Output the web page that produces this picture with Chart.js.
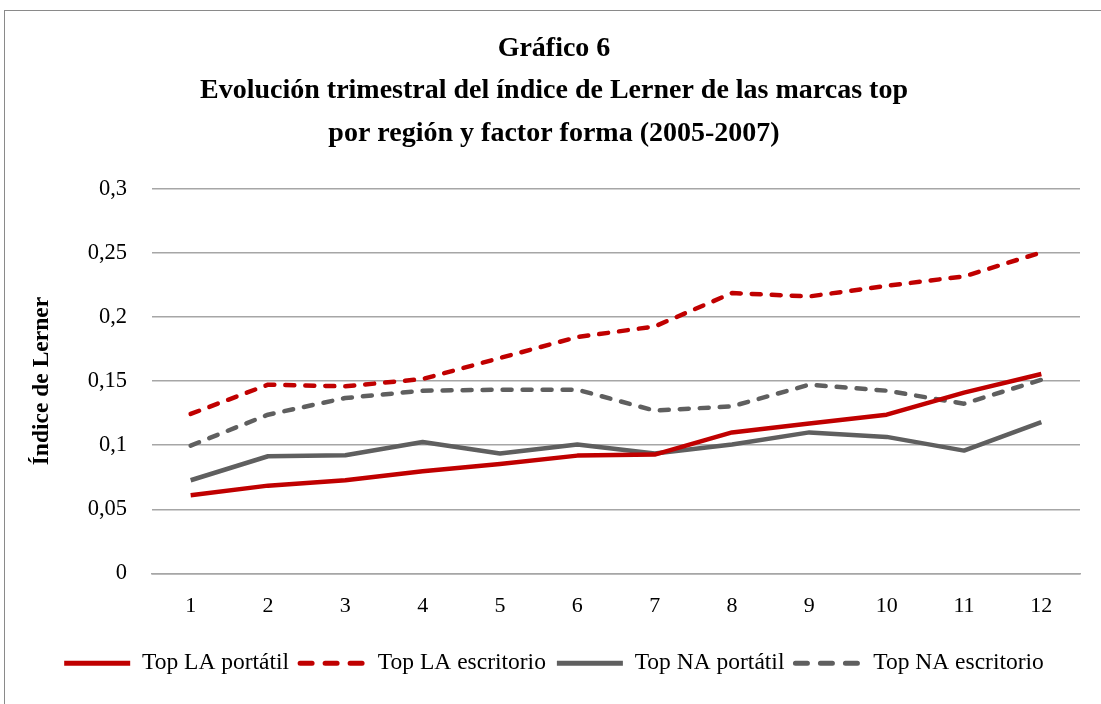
<!DOCTYPE html>
<html>
<head>
<meta charset="utf-8">
<script src="https://cdn.jsdelivr.net/npm/chart.js@4"></script>
<style>
  html, body { margin: 0; padding: 0; background: #fff; }
  #frame { position: absolute; left: 4px; top: 10px; width: 1200px; height: 800px; border-left: 1.5px solid #8a8a8a; border-top: 1.5px solid #8a8a8a; }
  #wrap { position: absolute; left: 0; top: 0; width: 1101px; height: 704px; }
</style>
</head>
<body>
<div id="frame"></div>
<div id="wrap"><canvas id="chart"></canvas></div>
<script>
// quarters 2005-2007
const quarters = ['1', '2', '3', '4', '5', '6', '7', '8', '9', '10', '11', '12'];

const topLaPortatil   = [0.061, 0.0685, 0.0727, 0.0797, 0.0854, 0.0919, 0.0927, 0.110, 0.117, 0.1238, 0.141, 0.1555];
const topLaEscritorio = [0.1244, 0.1472, 0.1459, 0.1516, 0.168, 0.1843, 0.1926, 0.2186, 0.216, 0.2243, 0.2316, 0.2503];
const topNaPortatil   = [0.0727, 0.0914, 0.0922, 0.1025, 0.0935, 0.1005, 0.0935, 0.1005, 0.110, 0.1065, 0.0958, 0.118];
const topNaEscritorio = [0.0997, 0.1238, 0.1368, 0.1425, 0.1433, 0.1433, 0.127, 0.1303, 0.1472, 0.1425, 0.1324, 0.151];

const yTickLabels = ['0', '0,05', '0,1', '0,15', '0,2', '0,25', '0,3'];

const RED = '#c00000';
const GRAY = '#5f5f5f';
const serif = 'Liberation Serif';

function line(label, data, color, dashed) {
  return {
    label: label,
    data: data,
    borderColor: color,
    backgroundColor: color,
    borderWidth: 4.5,
    borderDash: dashed ? [9, 11] : [],
    borderCapStyle: dashed ? 'round' : 'butt',
    borderJoinStyle: 'round',
    pointRadius: 0,
    tension: 0,
    fill: false
  };
}

const ctx = document.getElementById('chart').getContext('2d');
new Chart(ctx, {
  type: 'line',
  data: {
    labels: quarters,
    datasets: [
      line('Top LA portátil', topLaPortatil, RED, false),
      line('Top LA escritorio', topLaEscritorio, RED, true),
      line('Top NA portátil', topNaPortatil, GRAY, false),
      line('Top NA escritorio', topNaEscritorio, GRAY, true)
    ]
  },
  options: {
    responsive: true,
    maintainAspectRatio: false,
    animation: false,
    layout: { padding: { left: 28, right: 21, top: 27, bottom: 19 } },
    plugins: {
      title: {
        display: true,
        text: ['Gráfico 6', 'Evolución trimestral del índice de Lerner de las marcas top', 'por región y factor forma (2005-2007)'],
        color: '#000',
        font: { family: serif, size: 28, weight: 'bold', lineHeight: 1.52 },
        padding: { top: 0, bottom: 34 }
      },
      legend: {
        position: 'bottom',
        labels: {
          usePointStyle: true,
          pointStyle: 'line',
          pointStyleWidth: 66,
          boxHeight: 4,
          color: '#000',
          font: { family: serif, size: 23.5 },
          padding: 11,
          // carry the dash pattern of each series into its legend sample
          generateLabels: chart => Chart.defaults.plugins.legend.labels.generateLabels(chart).map((item, i) => {
            const ds = chart.data.datasets[i];
            const dashed = ds.borderDash.length > 0;
            item.lineDash = dashed ? [12, 13] : [];
            item.lineCap = ds.borderCapStyle;
            item.lineWidth = 5;
            item.strokeStyle = ds.borderColor;
            return item;
          })
        }
      },
      tooltip: { enabled: false }
    },
    scales: {
      x: {
        offset: true,
        grid: { display: false },
        border: { display: true, color: '#a6a6a6', width: 1.5 },
        ticks: { color: '#000', font: { family: serif, size: 22 }, padding: 12 },
        afterFit: s => { s.height = 67; }
      },
      y: {
        min: 0,
        max: 0.3,
        grid: { color: '#a6a6a6', lineWidth: 1.5, drawTicks: false },
        border: { display: false },
        ticks: {
          stepSize: 0.05,
          color: '#000',
          font: { family: serif, size: 22.5 },
          padding: 25,
          callback: (v, i) => yTickLabels[i]
        },
        title: {
          display: true,
          text: 'Índice de Lerner',
          color: '#000',
          font: { family: serif, size: 23.5, weight: 'bold' },
          padding: { top: 0, bottom: 0 }
        },
        afterFit: s => { s.width = 124; }
      }
    }
  }
});
</script>
</body>
</html>
